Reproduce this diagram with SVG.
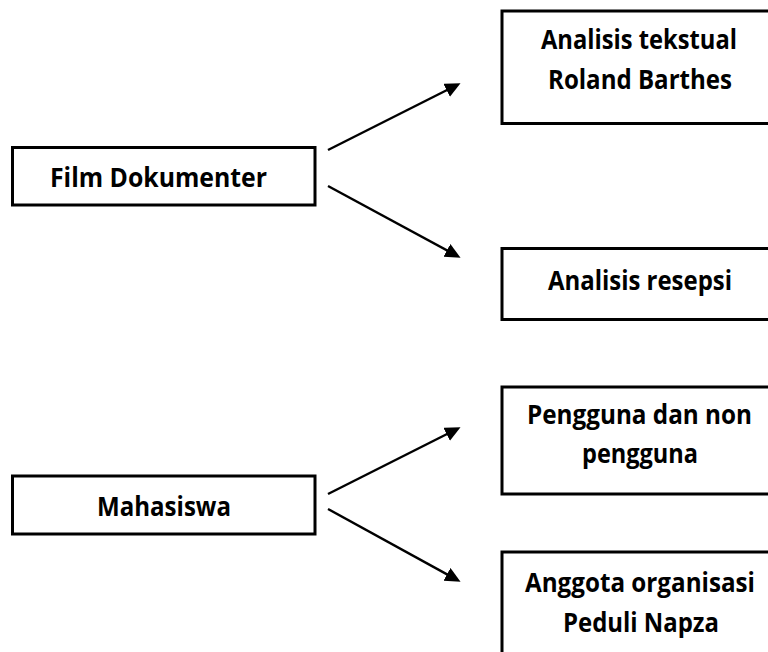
<svg xmlns="http://www.w3.org/2000/svg" width="768" height="652" viewBox="0 0 768 652">
<defs>
<style>
.box{fill:#fff;stroke:#000;stroke-width:3}
.lbl{font-family:"Open Sans","Noto Sans","Liberation Sans",sans-serif;font-weight:bold;font-size:26px;fill:#000;text-anchor:middle}
.conn{stroke:#000;stroke-width:2.4;fill:none;marker-end:url(#ah)}
</style>
<marker id="ah" markerUnits="userSpaceOnUse" markerWidth="17" markerHeight="16" refX="11" refY="7.25" orient="auto">
<path d="M0,0 L15.5,7.25 L0,14.5 z" fill="#000"/>
</marker>
</defs>
<rect width="768" height="652" fill="#fff"/>
<g id="film">
<rect class="box" x="12.5" y="147.5" width="302.5" height="57.5"/>
<text class="lbl" x="158.5" y="187" textLength="217" lengthAdjust="spacingAndGlyphs">Film Dokumenter</text>
</g>
<g id="tekstual">
<rect class="box" x="502" y="11" width="280" height="112.5"/>
<text class="lbl" x="639" y="49" textLength="196" lengthAdjust="spacingAndGlyphs">Analisis tekstual</text>
<text class="lbl" x="640" y="89" textLength="184" lengthAdjust="spacingAndGlyphs">Roland Barthes</text>
</g>
<g id="resepsi">
<rect class="box" x="502" y="248.5" width="280" height="71"/>
<text class="lbl" x="640" y="290" textLength="184" lengthAdjust="spacingAndGlyphs">Analisis resepsi</text>
</g>
<g id="mahasiswa">
<rect class="box" x="12.5" y="476" width="302.5" height="58"/>
<text class="lbl" x="164" y="516" textLength="134" lengthAdjust="spacingAndGlyphs">Mahasiswa</text>
</g>
<g id="pengguna">
<rect class="box" x="502" y="387" width="280" height="107"/>
<text class="lbl" x="639.5" y="424" textLength="225" lengthAdjust="spacingAndGlyphs">Pengguna dan non</text>
<text class="lbl" x="640" y="463" textLength="116" lengthAdjust="spacingAndGlyphs">pengguna</text>
</g>
<g id="anggota">
<rect class="box" x="502" y="552" width="280" height="120"/>
<text class="lbl" x="640" y="592" textLength="230" lengthAdjust="spacingAndGlyphs">Anggota organisasi</text>
<text class="lbl" x="641" y="632" textLength="156" lengthAdjust="spacingAndGlyphs">Peduli Napza</text>
</g>
<g id="connectors">
<line class="conn" x1="328" y1="150" x2="456.5" y2="85.3"/>
<line class="conn" x1="328" y1="186" x2="456.6" y2="255.6"/>
<line class="conn" x1="328" y1="494" x2="456.5" y2="429.3"/>
<line class="conn" x1="328" y1="509" x2="456.6" y2="579.6"/>
</g>
</svg>
